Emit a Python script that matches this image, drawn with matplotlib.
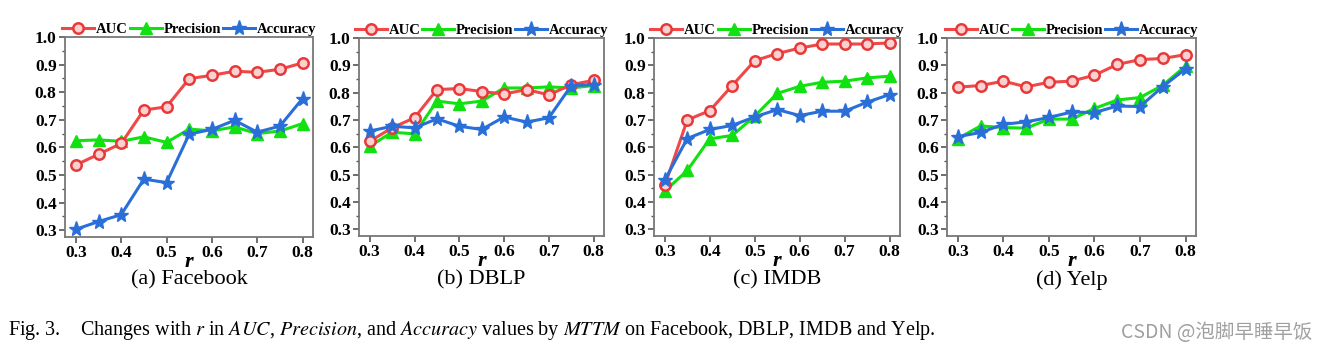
import matplotlib
matplotlib.use("Agg")
import matplotlib.pyplot as plt
from matplotlib.ticker import MultipleLocator

plt.rcParams['font.family'] = ['Liberation Serif', 'DejaVu Serif']
plt.rcParams['mathtext.fontset'] = 'stix'

r = [0.3, 0.35, 0.4, 0.45, 0.5, 0.55, 0.6, 0.65, 0.7, 0.75, 0.8]

# Facebook
fb_auc = [0.536, 0.575, 0.614, 0.735, 0.747, 0.849, 0.861, 0.876, 0.872, 0.883, 0.906]
fb_prec = [0.624, 0.627, 0.622, 0.638, 0.618, 0.666, 0.660, 0.674, 0.650, 0.659, 0.686]
fb_acc = [0.303, 0.331, 0.356, 0.485, 0.472, 0.648, 0.665, 0.698, 0.655, 0.677, 0.777]

# DBLP
db_auc = [0.622, 0.671, 0.708, 0.811, 0.815, 0.804, 0.795, 0.811, 0.792, 0.829, 0.845]
db_prec = [0.604, 0.655, 0.649, 0.769, 0.759, 0.769, 0.817, 0.817, 0.821, 0.817, 0.826]
db_acc = [0.659, 0.677, 0.671, 0.704, 0.677, 0.665, 0.711, 0.692, 0.708, 0.826, 0.829]

# IMDB
im_auc = [0.460, 0.700, 0.734, 0.826, 0.917, 0.943, 0.963, 0.978, 0.978, 0.978, 0.982]
im_prec = [0.439, 0.515, 0.631, 0.643, 0.714, 0.797, 0.823, 0.838, 0.842, 0.854, 0.860]
im_acc = [0.480, 0.632, 0.665, 0.680, 0.711, 0.738, 0.716, 0.732, 0.732, 0.765, 0.793]

# Yelp
ye_auc = [0.820, 0.826, 0.842, 0.821, 0.838, 0.842, 0.864, 0.903, 0.921, 0.925, 0.939]
ye_prec = [0.632, 0.678, 0.672, 0.670, 0.703, 0.703, 0.742, 0.773, 0.782, 0.827, 0.897]
ye_acc = [0.639, 0.654, 0.684, 0.693, 0.709, 0.729, 0.727, 0.751, 0.749, 0.822, 0.887]

datasets = ['Facebook', 'DBLP', 'IMDB', 'Yelp']
letters = ['a', 'b', 'c', 'd']
series = [(fb_auc, fb_prec, fb_acc), (db_auc, db_prec, db_acc),
          (im_auc, im_prec, im_acc), (ye_auc, ye_prec, ye_acc)]

W, H = 1328, 354
# axes frames in pixels: left, right, top, bottom
frames = [(65, 313, 37, 237), (359, 604, 38, 236), (654, 900, 38, 236), (947, 1196, 38, 236)]

fig = plt.figure(figsize=(W / 100, H / 100), dpi=100)

for i in range(4):
    l, rr, t, b = frames[i]
    ax = fig.add_axes([l / W, 1 - b / H, (rr - l) / W, (b - t) / H])
    auc, prec, acc = series[i]
    ax.plot(r, auc, '-o', color='#f04848', lw=2.2, ms=7.5, mfc='#fbd0d0',
            mec='#e83838', mew=1.8, label='AUC', zorder=3)
    ax.plot(r, prec, '-^', color='#11e011', lw=2.2, ms=8.5, mfc='#11e011',
            mec='#11e011', label='Precision', zorder=2)
    ax.plot(r, acc, '-*', color='#2a6fd8', lw=2.2, ms=11, mfc='#2a6fd8',
            mec='#2a6fd8', label='Accuracy', zorder=4)
    ax.set_xlim(0.276, 0.823)
    ax.set_ylim(0.275, 1.0)
    ax.set_xticks([0.3, 0.4, 0.5, 0.6, 0.7, 0.8])
    ax.set_yticks([0.3, 0.4, 0.5, 0.6, 0.7, 0.8, 0.9, 1.0])
    ax.yaxis.set_minor_locator(MultipleLocator(0.05))
    ax.tick_params(axis='both', which='major', labelsize=12.5, length=4,
                   width=1.2, color='#555555', pad=2)
    ax.tick_params(axis='y', which='minor', length=2.5, width=1.0, color='#555555')
    for lab in ax.get_xticklabels() + ax.get_yticklabels():
        lab.set_fontweight('bold')
    for sp in ax.spines.values():
        sp.set_color('#777777')
        sp.set_linewidth(1.3)
    ax.set_xlabel('r', fontsize=16, fontweight='bold', fontstyle='italic', labelpad=-7)
    ax.legend(loc='lower center', bbox_to_anchor=(0.5, 1.005), ncol=3, frameon=False,
              prop={'weight': 'bold', 'size': 10.5}, handlelength=2.2,
              handletextpad=0.12, columnspacing=0.12, borderpad=0, borderaxespad=0)
    cx = (l + rr) / 2 / W
    fig.text(cx, 1 - 280 / H, '(%s) %s' % (letters[i], datasets[i]),
             ha='center', va='center', fontsize=16)

fig.text(8 / W, 1 - 330 / H,
         r'Fig. 3.    Changes with $r$ in $AUC$, $Precision$, and $Accuracy$ values by $MTTM$ on Facebook, DBLP, IMDB and Yelp.',
         ha='left', va='center', fontsize=14.5)
fig.text(1312 / W, 1 - 333 / H, 'CSDN @泡脚早睡早饭', ha='right', va='center',
         fontsize=14, color='#a0a0a0', family=['Noto Sans CJK SC', 'DejaVu Sans'])

fig.savefig('out.png', dpi=100)
